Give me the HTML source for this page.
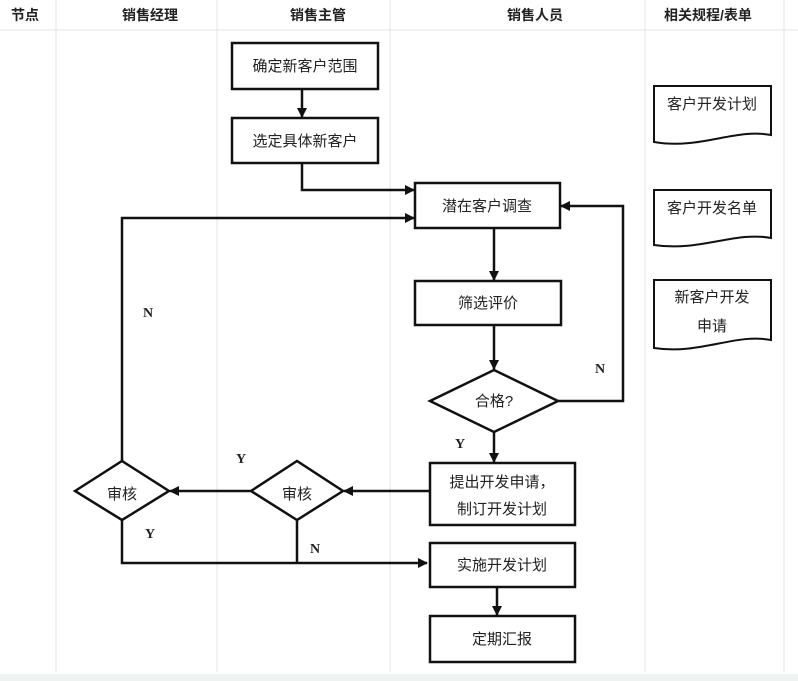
<!DOCTYPE html>
<html><head><meta charset="utf-8"><style>
html,body{margin:0;padding:0;background:#fff;}
svg{display:block;font-family:"Liberation Sans","Noto Sans CJK SC",sans-serif;}
.t{font-size:15px;fill:#222;text-anchor:middle;}
.h{font-size:14px;font-weight:bold;fill:#222;text-anchor:middle;}
.l{font-family:"Liberation Serif",serif;font-size:14px;font-weight:bold;fill:#222;text-anchor:middle;}
</style></head><body>
<svg width="798" height="681" viewBox="0 0 798 681">
<defs><marker id="a" markerWidth="10" markerHeight="10" refX="9" refY="5" orient="auto" markerUnits="userSpaceOnUse"><path d="M0,0 L10,5 L0,10 z" fill="#111"/></marker></defs>
<g stroke="#e4e4e4" stroke-width="1">
<line x1="0" y1="30" x2="798" y2="30"/>
<line x1="56" y1="0" x2="56" y2="672"/>
<line x1="217" y1="0" x2="217" y2="672"/>
<line x1="390" y1="0" x2="390" y2="672"/>
<line x1="645" y1="0" x2="645" y2="672"/>
<line x1="784" y1="0" x2="784" y2="672"/>
</g>
<rect x="0" y="674" width="798" height="7" fill="#eef3f1"/>
<text class="h" x="25" y="20">节点</text>
<text class="h" x="150" y="20">销售经理</text>
<text class="h" x="318" y="20">销售主管</text>
<text class="h" x="535" y="20">销售人员</text>
<text class="h" x="708" y="20">相关规程/表单</text>
<g fill="#fff" stroke="#111" stroke-width="2.5">
<rect x="232" y="43" width="146" height="46"/>
<rect x="232" y="118" width="146" height="45"/>
<rect x="415" y="183" width="145" height="45"/>
<rect x="415" y="281" width="146" height="44"/>
<polygon points="430,401 494,370 558,401 494,432"/>
<rect x="430" y="463" width="145" height="62"/>
<polygon points="251,491 297,461 343,491 297,520"/>
<polygon points="75,491 122,461 169,491 122,520"/>
<rect x="430" y="543" width="145" height="44"/>
<rect x="430" y="616" width="145" height="46"/>
</g>
<g fill="#fff" stroke="#111" stroke-width="2">
<path d="M654,86 H771 V135 C735,128 700,150 654,142 Z"/>
<path d="M654,190 H771 V238 C735,231 700,252 654,245 Z"/>
<path d="M654,280 H771 V340 C735,333 700,355 654,348 Z"/>
</g>
<g fill="none" stroke="#111" stroke-width="2.5">
<line x1="302" y1="89" x2="302" y2="117" marker-end="url(#a)"/>
<polyline points="302,163 302,190 414,190" marker-end="url(#a)"/>
<polyline points="122,461 122,218 414,218" marker-end="url(#a)"/>
<line x1="494" y1="228" x2="494" y2="280" marker-end="url(#a)"/>
<line x1="494" y1="325" x2="494" y2="369" marker-end="url(#a)"/>
<polyline points="558,401 623,401 623,206 561,206" marker-end="url(#a)"/>
<line x1="494" y1="432" x2="494" y2="462" marker-end="url(#a)"/>
<line x1="430" y1="491" x2="344" y2="491" marker-end="url(#a)"/>
<line x1="251" y1="491" x2="170" y2="491" marker-end="url(#a)"/>
<polyline points="122,520 122,563 427,563" marker-end="url(#a)"/>
<line x1="297" y1="520" x2="297" y2="563"/>
<line x1="497" y1="587" x2="497" y2="615" marker-end="url(#a)"/>
</g>
<text class="t" x="305" y="71">确定新客户范围</text>
<text class="t" x="305" y="146">选定具体新客户</text>
<text class="t" x="487" y="211">潜在客户调查</text>
<text class="t" x="488" y="308">筛选评价</text>
<text class="t" x="494" y="406">合格?</text>
<text class="t" x="502" y="487">提出开发申请，</text>
<text class="t" x="502" y="514">制订开发计划</text>
<text class="t" x="297" y="499">审核</text>
<text class="t" x="122" y="499">审核</text>
<text class="t" x="502" y="570">实施开发计划</text>
<text class="t" x="502" y="644">定期汇报</text>
<text class="t" x="712" y="109">客户开发计划</text>
<text class="t" x="712" y="213">客户开发名单</text>
<text class="t" x="712" y="302">新客户开发</text>
<text class="t" x="712" y="331">申请</text>
<text class="l" x="148" y="317">N</text>
<text class="l" x="600" y="373">N</text>
<text class="l" x="460" y="448">Y</text>
<text class="l" x="241" y="463">Y</text>
<text class="l" x="150" y="538">Y</text>
<text class="l" x="315" y="553">N</text>
</svg>
</body></html>
